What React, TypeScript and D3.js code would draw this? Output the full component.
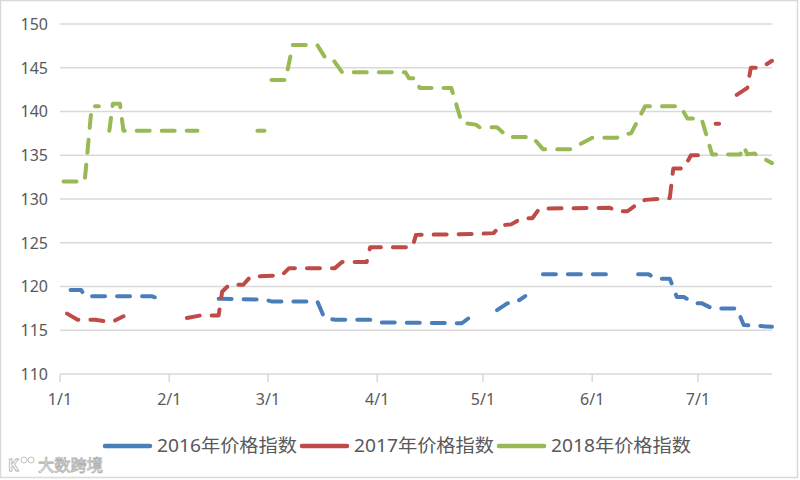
import React from "react";
import * as d3 from "d3";

// ---- data (date "M/D", value; null = gap) ----
const yTicks = [110, 115, 120, 125, 130, 135, 140, 145, 150];
const xTickLabels = ["1/1", "2/1", "3/1", "4/1", "5/1", "6/1", "7/1"];
const seriesNames = ["2016年价格指数", "2017年价格指数", "2018年价格指数"];

const series2016: [string, number | null][] = [
  ["1/4", 119.6], ["1/7", 119.6], ["1/8", 118.9], ["1/27", 118.9], ["1/29", 118.6], ["1/30", 118.5], ["1/31", null],
  ["2/15", 118.6], ["2/28", 118.5], ["3/2", 118.3], ["3/15", 118.3], ["3/17", 116.4], ["3/20", 116.2], ["3/30", 116.2],
  ["4/1", 115.9], ["4/25", 115.8], ["4/29", 117.0], ["5/2", null], ["5/5", 117.3], ["5/8", 118.1], ["5/10", 118.1],
  ["5/13", 118.9], ["5/14", null], ["5/18", 121.4], ["6/6", 121.4], ["6/7", null], ["6/14", 121.4], ["6/17", 121.4],
  ["6/19", 120.9], ["6/23", 120.9], ["6/25", 118.8], ["6/27", 118.8], ["6/30", 118.1], ["7/2", 118.1], ["7/5", 117.5],
  ["7/12", 117.5], ["7/14", 115.6], ["7/22", 115.4],
];

const series2017: [string, number | null][] = [
  ["1/3", 116.9], ["1/6", 116.2], ["1/11", 116.2], ["1/14", 116.0], ["1/16", 116.0], ["1/19", 116.6], ["1/20", null],
  ["2/6", 116.4], ["2/10", 116.7], ["2/15", 116.7], ["2/16", 119.4], ["2/18", 120.2], ["2/22", 120.2], ["2/24", 121.1],
  ["3/5", 121.3], ["3/7", 122.1], ["3/20", 122.1], ["3/22", 122.8], ["3/29", 122.8], ["3/30", 124.5], ["4/11", 124.5],
  ["4/12", 125.9], ["4/29", 126.0], ["5/4", 126.1], ["5/6", 127.0], ["5/9", 127.1], ["5/12", 127.8], ["5/15", 127.8],
  ["5/17", 128.9], ["6/6", 129.0], ["6/8", 128.6], ["6/11", 128.6], ["6/14", 129.5], ["6/16", 129.9], ["6/23", 130.1],
  ["6/24", 133.5], ["6/27", 133.5], ["6/29", 135.0], ["7/2", 135.0], ["7/3", null], ["7/6", 138.6], ["7/7", 138.6],
  ["7/8", null], ["7/12", 141.9], ["7/15", 142.7], ["7/16", 145.0], ["7/19", 145.0], ["7/22", 145.8],
];

const series2018: [string, number | null][] = [
  ["1/2", 132.0], ["1/8", 132.0], ["1/10", 140.6], ["1/12", 140.6], ["1/13", null], ["1/15", 137.8], ["1/16", 140.9],
  ["1/18", 140.9], ["1/19", 137.8], ["2/9", 137.8], ["2/10", null], ["2/26", 137.8], ["2/28", 137.8], ["3/1", null],
  ["3/2", 143.6], ["3/6", 143.6], ["3/8", 147.6], ["3/15", 147.6], ["3/17", 146.3], ["3/19", 146.2], ["3/22", 144.5],
  ["4/9", 144.5], ["4/10", 143.8], ["4/12", 143.8], ["4/13", 142.7], ["4/22", 142.7], ["4/25", 138.7], ["4/29", 138.5],
  ["4/30", 138.2], ["5/5", 138.2], ["5/8", 137.1], ["5/15", 137.1], ["5/18", 135.7], ["5/26", 135.7], ["6/1", 137.0],
  ["6/8", 137.0], ["6/10", 137.4], ["6/12", 137.5], ["6/16", 140.6], ["6/26", 140.6], ["6/28", 139.2], ["7/2", 139.2],
  ["7/5", 135.1], ["7/13", 135.1], ["7/14", 136.0], ["7/15", 135.1], ["7/17", 135.2], ["7/22", 134.1],
];

const colors = ["#4a7ebb", "#be4b48", "#98b954"];

const monthStart = [0, 31, 59, 90, 120, 151, 181, 212, 243, 273, 304, 334];
const dayOf = (s: string) => {
  const [m, d] = s.split("/").map(Number);
  return monthStart[m - 1] + d - 1;
};

export default function App() {
  const W = 800, H = 480;
  const left = 60, right = 772, top = 24, bottom = 374;
  const x = d3.scaleLinear().domain([0, 202]).range([left, right]);
  const y = d3.scaleLinear().domain([110, 150]).range([bottom, top]);
  const line = d3
    .line<[string, number | null]>()
    .defined((d) => d[1] !== null)
    .x((d) => x(dayOf(d[0])))
    .y((d) => y(d[1] as number));

  const all = [series2016, series2017, series2018];
  const font = "'Noto Sans', 'Noto Sans CJK SC', sans-serif";
  const legendLineX = [103, 300, 497];

  return (
    <svg width={W} height={H} style={{ position: "absolute", left: 0, top: 0, background: "#fff" }}>
      <rect x={0.5} y={0.5} width={797} height={477} fill="#fff" stroke="#d9d9d9" strokeWidth={1.5} />
      {yTicks.map((t) => (
        <g key={t}>
          <line x1={left} x2={right} y1={y(t)} y2={y(t)} stroke="#d9d9d9" strokeWidth={1.5} />
          <text x={48} y={y(t)} dy="0.36em" textAnchor="end" fontSize={16} fill="#595959" fontFamily={font}>
            {t}
          </text>
        </g>
      ))}
      {xTickLabels.map((l) => (
        <g key={l}>
          <line x1={x(dayOf(l))} x2={x(dayOf(l))} y1={bottom} y2={bottom + 8} stroke="#d9d9d9" strokeWidth={1.5} />
          <text x={x(dayOf(l))} y={405} textAnchor="middle" fontSize={16} fill="#595959" fontFamily={font}>
            {l}
          </text>
        </g>
      ))}
      {all.map((s, i) => (
        <path
          key={i}
          d={line(s) || ""}
          fill="none"
          stroke={colors[i]}
          strokeWidth={4}
          strokeDasharray="13 12"
          strokeLinecap="round"
          strokeLinejoin="round"
        />
      ))}
      {seriesNames.map((n, i) => (
        <g key={n}>
          <line x1={legendLineX[i] + 2} x2={legendLineX[i] + 47} y1={446} y2={446} stroke={colors[i]} strokeWidth={4.5} strokeLinecap="round" />
          <text
            x={legendLineX[i] + 54}
            y={446}
            dy="0.36em"
            fontSize={18}
            fill="#595959"
            fontFamily={font}
            textLength={140}
            lengthAdjust="spacingAndGlyphs"
          >
            {n}
          </text>
        </g>
      ))}
      {/* watermark */}
      <g opacity={0.9}>
        <text x={8} y={471} fontSize={16} fontWeight="bold" fill="#fff" stroke="#aaa" strokeWidth={0.8} fontFamily={font}>
          K
        </text>
        <circle cx={24} cy={460} r={3} fill="#fff" stroke="#aaa" strokeWidth={0.8} />
        <circle cx={31} cy={460} r={3} fill="#fff" stroke="#aaa" strokeWidth={0.8} />
        <text x={38} y={471} fontSize={16} fill="#fff" stroke="#aaa" strokeWidth={0.8} fontFamily={font} textLength={65} lengthAdjust="spacingAndGlyphs">
          大数跨境
        </text>
      </g>
    </svg>
  );
}
